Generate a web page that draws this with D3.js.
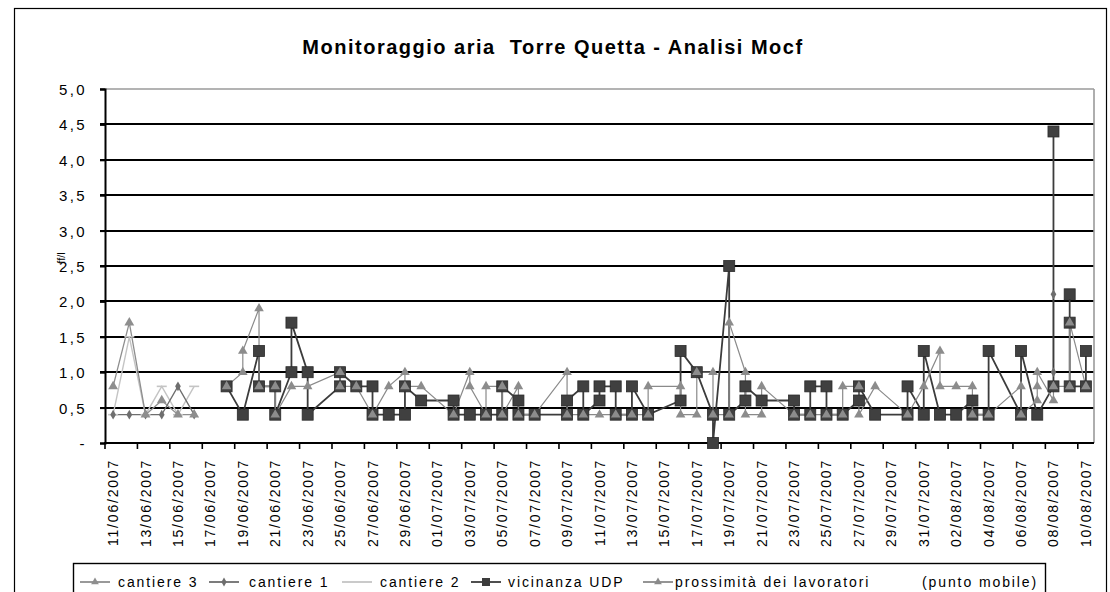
<!DOCTYPE html>
<html><head><meta charset="utf-8">
<script src="https://cdn.jsdelivr.net/npm/d3@7"></script>
<style>body{margin:0;background:#fff}svg{display:block}text{font-family:Arial,"Liberation Sans",sans-serif;fill:#000}</style>
</head><body>
<svg id="c" width="1110" height="592"></svg>
<script>
// ---------- DATA ----------
const title = "Monitoraggio aria  Torre Quetta - Analisi Mocf";
const yLabel = "ff/l";
const dates = ["11/06/2007","12/06/2007","13/06/2007","14/06/2007","15/06/2007","16/06/2007","17/06/2007","18/06/2007","19/06/2007","20/06/2007",
"21/06/2007","22/06/2007","23/06/2007","24/06/2007","25/06/2007","26/06/2007","27/06/2007","28/06/2007","29/06/2007","30/06/2007",
"01/07/2007","02/07/2007","03/07/2007","04/07/2007","05/07/2007","06/07/2007","07/07/2007","08/07/2007","09/07/2007","10/07/2007",
"11/07/2007","12/07/2007","13/07/2007","14/07/2007","15/07/2007","16/07/2007","17/07/2007","18/07/2007","19/07/2007","20/07/2007",
"21/07/2007","22/07/2007","23/07/2007","24/07/2007","25/07/2007","26/07/2007","27/07/2007","28/07/2007","29/07/2007","30/07/2007",
"31/07/2007","01/08/2007","02/08/2007","03/08/2007","04/08/2007","05/08/2007","06/08/2007","07/08/2007","08/08/2007","09/08/2007","10/08/2007"];
const yTicks = [0,0.5,1,1.5,2,2.5,3,3.5,4,4.5,5];
const yTickLabels = ["-","0,5","1,0","1,5","2,0","2,5","3,0","3,5","4,0","4,5","5,0"];
const seriesNames = ["cantiere 3","cantiere 1","cantiere 2","vicinanza UDP","prossimità dei lavoratori"];
const legendNote = "(punto mobile)";

const cantiere3 = [["11/06",0.8],["12/06",1.7],["13/06",0.4],["14/06",0.6],["15/06",0.4],["16/06",0.4]];
const cantiere1 = [["11/06",0.4],["12/06",0.4],["13/06",0.4],["14/06",0.4],["15/06",0.8],["16/06",0.4],["17/06",null],["08/08",1.0],["08/08",2.1]];
const cantiere2 = [["11/06",0.4],["12/06",1.5],["13/06",0.4],["14/06",0.8],["15/06",0.4],["16/06",0.8]];
const vicinanzaUDP = [["18/06",0.8],["19/06",0.4],["20/06",1.3],["20/06",0.8],["21/06",0.8],["21/06",0.4],["22/06",1.0],["22/06",1.7],
["23/06",1.0],["23/06",0.4],["25/06",0.8],["25/06",1.0],["26/06",0.8],["27/06",0.8],["27/06",0.4],["28/06",0.4],["29/06",0.4],["29/06",0.8],
["30/06",0.6],["02/07",0.6],["02/07",0.4],["03/07",0.4],["04/07",0.4],["05/07",0.4],["05/07",0.8],["06/07",0.6],["06/07",0.4],["07/07",0.4],
["09/07",0.4],["09/07",0.6],["10/07",0.8],["10/07",0.4],["11/07",0.6],["11/07",0.8],["12/07",0.8],["12/07",0.4],["13/07",0.4],["13/07",0.8],
["14/07",0.4],["16/07",0.6],["16/07",1.3],["17/07",1.0],["18/07",0.4],["18/07",0.0],["19/07",2.5],["19/07",0.4],["20/07",0.6],["20/07",0.8],
["21/07",0.6],["23/07",0.6],["23/07",0.4],["24/07",0.4],["24/07",0.8],["25/07",0.8],["25/07",0.4],["26/07",0.4],["27/07",0.6],["27/07",0.8],
["28/07",0.4],["30/07",0.4],["30/07",0.8],["31/07",0.4],["31/07",1.3],["01/08",0.4],["02/08",0.4],["03/08",0.6],["03/08",0.4],["04/08",0.4],
["04/08",1.3],["06/08",0.4],["06/08",1.3],["07/08",0.4],["08/08",0.8],["08/08",4.4],["09/08",null],["09/08",2.1],["09/08",1.7],["09/08",0.8],
["10/08",0.8],["10/08",1.3]];
const prossimita = [["18/06",0.8],["19/06",1.0],["19/06",1.3],["20/06",1.9],["20/06",0.8],["21/06",0.8],["21/06",0.4],["22/06",0.8],["23/06",0.8],
["25/06",1.0],["25/06",0.8],["26/06",0.8],["27/06",0.4],["28/06",0.8],["29/06",1.0],["29/06",0.8],["30/06",0.8],["02/07",0.4],["03/07",1.0],
["03/07",0.8],["04/07",0.4],["04/07",0.8],["05/07",0.8],["05/07",0.4],["06/07",0.8],["06/07",0.4],["07/07",0.4],["09/07",1.0],["09/07",0.4],
["10/07",0.4],["11/07",0.4],["12/07",0.4],["13/07",0.4],["14/07",0.4],["14/07",0.8],["16/07",0.8],["16/07",0.4],["17/07",0.4],["17/07",1.0],
["18/07",1.0],["18/07",0.4],["19/07",0.4],["19/07",1.7],["20/07",1.0],["20/07",0.4],["21/07",0.4],["21/07",0.8],["23/07",0.4],["24/07",0.4],
["25/07",0.4],["26/07",0.4],["26/07",0.8],["27/07",0.8],["27/07",0.4],["28/07",0.8],["30/07",0.4],["31/07",0.8],["01/08",1.3],["01/08",0.8],
["02/08",0.8],["03/08",0.8],["03/08",0.4],["04/08",0.4],["06/08",0.8],["06/08",0.4],["07/08",0.6],["07/08",0.8],["07/08",1.0],["08/08",0.6],
["08/08",0.8],["09/08",0.8],["09/08",1.7],["10/08",0.8]];

// ---------- CHART ----------
const svg = d3.select("#c");
svg.append("rect").attr("x",0).attr("y",0).attr("width",1110).attr("height",592).attr("fill","#fff");
svg.append("rect").attr("x",14.5).attr("y",8.5).attr("width",1092).attr("height",600)
  .attr("fill","none").attr("stroke","#000").attr("stroke-width",1.2);

const keys = dates.map(d => d.slice(0,5));
const x = d3.scaleBand().domain(keys).range([105,1094]).padding(0);
const y = d3.scaleLinear().domain([0,5]).range([443,89]);
const cx = k => x(k) + x.bandwidth()/2;

svg.append("text").attr("x",553).attr("y",54).attr("text-anchor","middle").style("white-space","pre")
  .attr("font-size",20).attr("font-weight","bold").attr("letter-spacing",1.5).text(title);

// gridlines
const g = svg.append("g");
g.selectAll("line.grid").data(yTicks.filter(t => t>0 && t<5)).join("line")
  .attr("x1",100).attr("x2",1094).attr("y1",d=>Math.round(y(d))).attr("y2",d=>Math.round(y(d)))
  .attr("stroke","#000").attr("stroke-width",2);
// plot border top/right
g.append("line").attr("x1",100).attr("x2",1094).attr("y1",y(5)).attr("y2",y(5)).attr("stroke","#9a9a9a").attr("stroke-width",1.6);
g.append("line").attr("x1",1094).attr("x2",1094).attr("y1",y(5)).attr("y2",y(0)).attr("stroke","#9a9a9a").attr("stroke-width",1.6);

// y axis
const yAxis = d3.axisLeft(y).tickValues(yTicks).tickSize(5).tickFormat((d,i)=>yTickLabels[i]);
const ya = svg.append("g").attr("transform","translate(105,0)").call(yAxis);
ya.select(".domain").attr("stroke","#000").attr("stroke-width",2);
ya.selectAll(".tick line").attr("stroke","#000").attr("stroke-width",2);
ya.selectAll(".tick text").attr("font-size",15).attr("letter-spacing",2.4).attr("x",-18).attr("dy","0.36em")
  .attr("font-family","Arial,'Liberation Sans',sans-serif").attr("fill","#000");

svg.append("text").attr("transform","translate(65,258) rotate(-90)").attr("text-anchor","middle")
  .attr("font-size",11).text(yLabel);

// x axis
const xa = svg.append("g").attr("transform","translate(0,443)");
xa.append("line").attr("x1",104).attr("x2",1094).attr("y1",0).attr("y2",0).attr("stroke","#000").attr("stroke-width",2);
const tickKeys = keys.filter((k,i)=> i%2===0);
xa.selectAll("line.t").data(tickKeys).join("line").attr("class","t")
  .attr("x1",d=>x(d)).attr("x2",d=>x(d)).attr("y1",0).attr("y2",6).attr("stroke","#000").attr("stroke-width",1.6);
xa.selectAll("text").data(tickKeys).join("text")
  .attr("transform",d=>`translate(${cx(d)+5},${16}) rotate(-90)`)
  .attr("text-anchor","end").attr("font-size",14).attr("letter-spacing",1.8)
  .text(d => dates[keys.indexOf(d)]);

// series
const line = d3.line().defined(d=>d[1]!==null).x(d=>cx(d[0])).y(d=>y(d[1]));
const plot = svg.append("g");
function drawLine(data, color, width){
  plot.append("path").datum(data).attr("d",line).attr("fill","none").attr("stroke",color).attr("stroke-width",width);
}
drawLine(cantiere2,"#c4c4c4",1.4);
drawLine(cantiere3,"#8e8e8e",1.3);
drawLine(cantiere1,"#6e6e6e",1.3);
drawLine(vicinanzaUDP,"#3c3c3c",1.8);
drawLine(prossimita,"#8a8a8a",1.2);

// cantiere 2 markers: short dash
plot.selectAll("line.c2").data(cantiere2).join("line")
  .attr("x1",d=>cx(d[0])-5).attr("x2",d=>cx(d[0])+5).attr("y1",d=>y(d[1])).attr("y2",d=>y(d[1])).attr("stroke","#c4c4c4").attr("stroke-width",1.6);
// cantiere 1 markers: diamond
plot.selectAll("path.c1").data(cantiere1.filter(d=>d[1]!==null)).join("path")
  .attr("d",d3.symbol().type(d3.symbolDiamond).size(28)).attr("transform",d=>`translate(${cx(d[0])},${y(d[1])})`)
  .attr("fill","#6e6e6e");
// cantiere 3 markers: small triangle
plot.selectAll("path.c3").data(cantiere3).join("path")
  .attr("d",d3.symbol().type(d3.symbolTriangle).size(42)).attr("transform",d=>`translate(${cx(d[0])},${y(d[1])})`).attr("fill","#8e8e8e");
// UDP squares
plot.selectAll("rect.u").data(vicinanzaUDP.filter(d=>d[1]!==null)).join("rect")
  .attr("x",d=>cx(d[0])-5.5).attr("y",d=>y(d[1])-5.5).attr("width",11).attr("height",11)
  .attr("fill","#404040").attr("stroke","#2a2a2a").attr("stroke-width",0.8);
// prossimità triangles
plot.selectAll("path.p").data(prossimita).join("path")
  .attr("d",d3.symbol().type(d3.symbolTriangle).size(40)).attr("transform",d=>`translate(${cx(d[0])},${y(d[1])})`)
  .attr("fill","#8c8c8c");

// legend
const lg = svg.append("g");
lg.append("rect").attr("x",73.5).attr("y",563.5).attr("width",972).attr("height",40).attr("fill","#fff").attr("stroke","#000").attr("stroke-width",1.4);
const legendItems = [
  {name:seriesNames[0], sx:80, tx:118, color:"#8e8e8e", m:"tri"},
  {name:seriesNames[1], sx:209, tx:249, color:"#6e6e6e", m:"dia"},
  {name:seriesNames[2], sx:342, tx:380, color:"#c4c4c4", m:"none"},
  {name:seriesNames[3], sx:471, tx:508, color:"#3c3c3c", m:"sq"},
  {name:seriesNames[4], sx:643, tx:675, color:"#8a8a8a", m:"tri"}
];
const ly = 582;
legendItems.forEach(it=>{
  lg.append("line").attr("x1",it.sx).attr("x2",it.sx+30).attr("y1",ly).attr("y2",ly).attr("stroke",it.color).attr("stroke-width",1.8);
  const mx = it.sx+15;
  if(it.m==="tri") lg.append("path").attr("d",d3.symbol().type(d3.symbolTriangle).size(26)()).attr("transform",`translate(${mx},${ly})`).attr("fill",it.color);
  if(it.m==="dia") lg.append("path").attr("d",d3.symbol().type(d3.symbolDiamond).size(24)()).attr("transform",`translate(${mx},${ly})`).attr("fill",it.color);
  if(it.m==="sq") lg.append("rect").attr("x",mx-4).attr("y",ly-4).attr("width",8).attr("height",8).attr("fill",it.color);
  lg.append("text").attr("x",it.tx).attr("y",ly+5).attr("font-size",14).attr("letter-spacing",1.9).text(it.name);
});
lg.append("text").attr("x",922).attr("y",ly+5).attr("font-size",14).attr("letter-spacing",1.9).text(legendNote);
</script>
</body></html>
